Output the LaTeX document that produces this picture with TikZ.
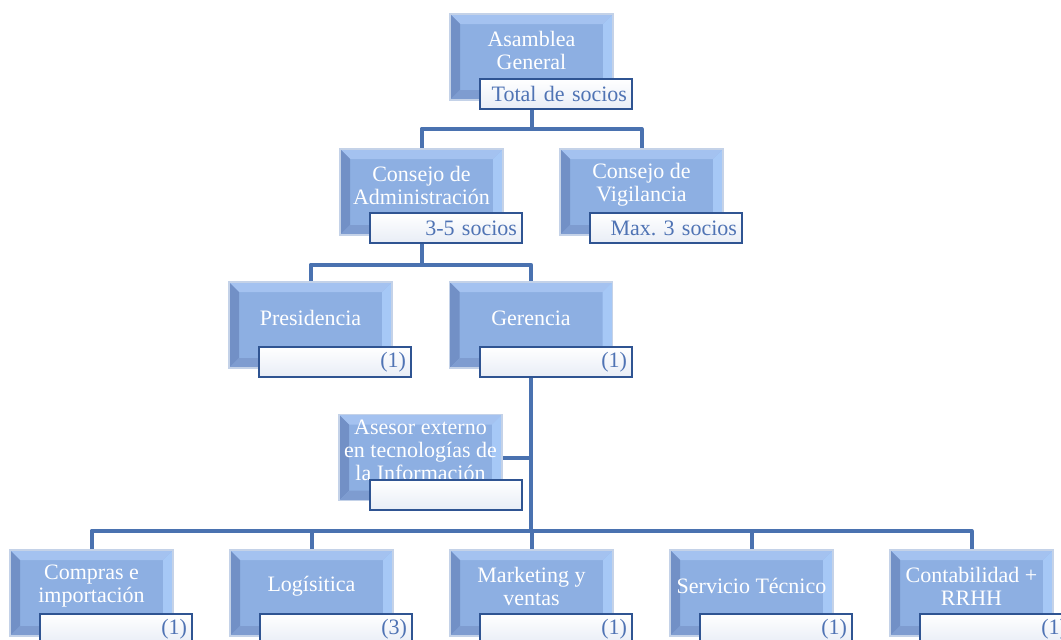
\documentclass[tikz,border=0pt]{standalone}
\usepackage{fontspec}
\setmainfont{Liberation Serif}
\frenchspacing
\definecolor{boxface}{RGB}{141,175,226}
\definecolor{boxtop}{RGB}{164,194,240}
\definecolor{boxleft}{RGB}{114,144,198}
\definecolor{boxright}{RGB}{166,200,246}
\definecolor{boxbottom}{RGB}{126,156,208}
\definecolor{boxglow}{RGB}{196,210,232}
\definecolor{countline}{RGB}{47,84,146}
\definecolor{countshade}{RGB}{232,237,246}
\definecolor{counttext}{RGB}{79,115,180}
\definecolor{linkcol}{RGB}{74,114,176}
\tikzset{
  unitbox/.style={minimum width=163pt, minimum height=86pt, inner sep=0pt,
    draw=boxglow, line width=1.5pt, fill=boxface,
    path picture={
      \coordinate (nw) at (path picture bounding box.north west);
      \coordinate (ne) at (path picture bounding box.north east);
      \coordinate (sw) at (path picture bounding box.south west);
      \coordinate (se) at (path picture bounding box.south east);
      \fill[boxtop] (nw) -- (ne) -- ([xshift=-10pt,yshift=-10pt]ne) -- ([xshift=10pt,yshift=-10pt]nw) -- cycle;
      \fill[boxleft] (nw) -- ([xshift=10pt,yshift=-10pt]nw) -- ([xshift=10pt,yshift=10pt]sw) -- (sw) -- cycle;
      \fill[boxright] (ne) -- (se) -- ([xshift=-10pt,yshift=10pt]se) -- ([xshift=-10pt,yshift=-10pt]ne) -- cycle;
      \fill[boxbottom] (sw) -- ([xshift=10pt,yshift=10pt]sw) -- ([xshift=-10pt,yshift=10pt]se) -- (se) -- cycle;
    }},
  unittext/.style={text=white, align=center, inner sep=0pt, yshift=7pt,
    font=\fontsize{22}{23}\selectfont},
  countbox/.style={minimum width=152pt, minimum height=30pt, text width=142pt,
    align=right, inner xsep=5pt, inner ysep=0pt, draw=countline, line width=1.5pt,
    top color=white, bottom color=countshade, text=counttext,
    font=\fontsize{22}{23}\selectfont},
  link/.style={draw=linkcol, line width=4pt, line join=round}
}
\begin{document}
\begin{tikzpicture}[x=1pt, y=-1pt]
\useasboundingbox (0,0) rectangle (1061,640);
% first level
\node[unitbox, label={[unittext]center:{Asamblea\\General}}] (asamblea) at (531.5,57) {};
\node[countbox] (asamblea-n) at (556,94) {Total de socios};
% councils
\node[unitbox, label={[unittext]center:{Consejo de\\Administración}}] (admin) at (421.5,192) {};
\node[countbox] (admin-n) at (446,228) {3-5 socios};
\node[unitbox, label={[unittext]center:{Consejo de\\Vigilancia}}] (vigil) at (641.5,192) {};
\node[countbox] (vigil-n) at (666,228) {Max. 3 socios};
% direction
\node[unitbox, label={[unittext]center:{Presidencia}}] (presid) at (310.5,325) {};
\node[countbox] (presid-n) at (335,362) {(1)};
\node[unitbox, label={[unittext]center:{Gerencia}}] (geren) at (531,325) {};
\node[countbox] (geren-n) at (556,362) {(1)};
% advisor
\node[unitbox, label={[unittext]center:{Asesor externo\\en tecnologías de\\la Información}}] (asesor) at (420.5,457.5) {};
\node[countbox] (asesor-n) at (446,495) {};
% departments
\node[unitbox, label={[unittext]center:{Compras e\\importación}}] (compras) at (91.5,593) {};
\node[countbox] (compras-n) at (116,629) {(1)};
\node[unitbox, label={[unittext]center:{Logísitica}}] (logis) at (311.5,593) {};
\node[countbox] (logis-n) at (336,629) {(3)};
\node[unitbox, label={[unittext]center:{Marketing y\\ventas}}] (market) at (531.5,593) {};
\node[countbox] (market-n) at (556,629) {(1)};
\node[unitbox, label={[unittext]center:{Servicio Técnico}}] (servicio) at (751.5,593) {};
\node[countbox] (servicio-n) at (776,629) {(1)};
\node[unitbox, label={[unittext]center:{Contabilidad +\\RRHH}}] (contab) at (971.5,593) {};
\node[countbox] (contab-n) at (996,629) {(1)};
% links
\draw[link] (asamblea.center |- asamblea-n.south) -- ++(0,19) -| (admin.north);
\draw[link] (asamblea.center |- asamblea-n.south) -- ++(0,19) -| (vigil.north);
\draw[link] (admin.center |- admin-n.south) -- ++(0,21) -| (presid.north);
\draw[link] (admin.center |- admin-n.south) -- ++(0,21) -| (geren.north);
\draw[link] (asesor.east) -- (asesor.east -| geren.center);
\foreach \dep in {compras,logis,market,servicio,contab}
  \draw[link] (geren.center |- geren-n.south) -- ++(0,153) -| (\dep.north);
\end{tikzpicture}
\end{document}
